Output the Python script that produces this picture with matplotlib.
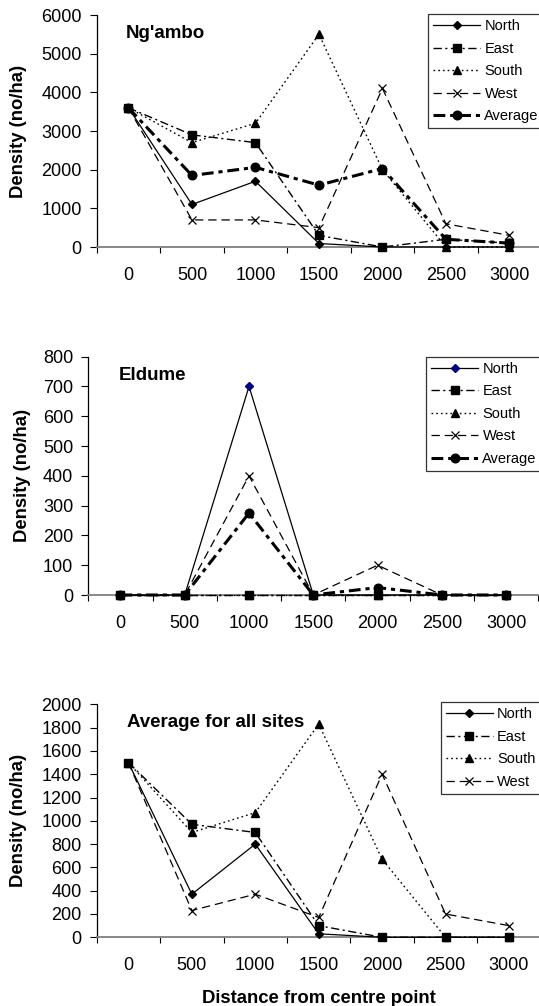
import matplotlib
matplotlib.use('Agg')
import matplotlib.pyplot as plt

plt.rcParams['font.family'] = ['Liberation Sans', 'DejaVu Sans']
plt.rcParams['lines.scale_dashes'] = False

W, H = 539, 1006

distance = ['0', '500', '1000', '1500', '2000', '2500', '3000']
series_names = ['North', 'East', 'South', 'West', 'Average']

ngambo_north = [3600, 1100, 1700, 90, 0, 0, 0]
ngambo_east = [3600, 2900, 2700, 300, 0, 200, 100]
ngambo_south = [3600, 2700, 3200, 5500, 2000, 0, 0]
ngambo_west = [3600, 700, 700, 500, 4100, 600, 300]
ngambo_avg = [3600, 1850, 2060, 1600, 2030, 200, 100]

eldume_north = [0, 0, 700, 0, 0, 0, 0]
eldume_east = [0, 0, 0, 0, 0, 0, 0]
eldume_south = [0, 0, 0, 0, 0, 0, 0]
eldume_west = [0, 0, 400, 0, 100, 0, 0]
eldume_avg = [0, 0, 275, 0, 25, 0, 0]

all_north = [1500, 370, 800, 30, 0, 0, 0]
all_east = [1500, 970, 900, 100, 0, 0, 0]
all_south = [1500, 900, 1070, 1830, 670, 0, 0]
all_west = [1500, 230, 370, 170, 1400, 200, 100]

styles = {
    'North': dict(color='black', ls='-', lw=0.9, marker='D', ms=4.5),
    'East': dict(color='black', ls=(0, (6, 2.5, 1.5, 2.5)), lw=1.0, marker='s', ms=5.5),
    'South': dict(color='black', ls=(0, (1.2, 2.2)), lw=1.0, marker='^', ms=5.8),
    'West': dict(color='black', ls=(0, (6, 3.5)), lw=0.9, marker='x', ms=6, mew=0.9),
    'Average': dict(color='black', ls=(0, (8.5, 3.5, 3, 3.5)), lw=2.2, marker='o', ms=6.2),
}

fig = plt.figure(figsize=(W / 100, H / 100), dpi=100)


def px_rect(left, top, width, bottom):
    return [left / W, 1 - bottom / H, width / W, (bottom - top) / H]


def panel(rect, title, title_pos, data, ymax, ystep, ylab_x, legend_pos, north_marker=None):
    ax = fig.add_axes(rect)
    x = list(range(len(distance)))
    for name, vals in data:
        st = dict(styles[name])
        if name == 'North' and north_marker:
            st['mfc'] = north_marker
            st['mec'] = north_marker
        ax.plot(x, vals, label=name, clip_on=False, zorder=3, **st)
    ax.set_xlim(-0.5, 6.5)
    ax.set_ylim(0, ymax)
    ax.set_yticks(list(range(0, ymax + 1, ystep)))
    ax.set_xticks(x)
    ax.set_xticklabels(distance)
    ax.set_xticks([i - 0.5 for i in range(8)], minor=True)
    ax.tick_params(axis='x', which='major', length=0, pad=14.5, labelsize=13)
    ax.tick_params(axis='x', which='minor', length=4, width=0.8, direction='out')
    ax.tick_params(axis='y', which='major', length=4.8, width=0.8, pad=6, labelsize=13)
    ax.spines['top'].set_visible(False)
    ax.spines['right'].set_visible(False)
    ax.spines['bottom'].set_color('#7f7f7f')
    ax.spines['bottom'].set_linewidth(1.3)
    ax.spines['left'].set_linewidth(0.9)
    ax.set_facecolor('none')
    fig.text(title_pos[0] / W, 1 - title_pos[1] / H, title, fontsize=13.5,
             fontweight='bold', ha='left', va='baseline')
    cy = (rect[1] + rect[3] / 2)
    fig.text(ylab_x / W, cy, 'Density (no/ha)', rotation=90, fontsize=13.3,
             fontweight='bold', ha='center', va='center')
    leg = ax.legend(loc='upper left', bbox_to_anchor=(legend_pos[0] / W, 1 - legend_pos[1] / H),
                    bbox_transform=fig.transFigure, borderaxespad=0, fancybox=False,
                    edgecolor='#333333', framealpha=1, fontsize=10.5, handlelength=3.2,
                    handletextpad=0.3, labelspacing=0.58, borderpad=0.35)
    leg.get_frame().set_linewidth(0.9)
    return ax


panel(px_rect(96.7, 15, 444.5, 247), "Ng'ambo", (126, 38.3),
      list(zip(series_names, [ngambo_north, ngambo_east, ngambo_south, ngambo_west, ngambo_avg])),
      6000, 1000, 18.5, (428.3, 14.3))

panel(px_rect(88.3, 356.7, 450, 595), 'Eldume', (118.3, 380),
      list(zip(series_names, [eldume_north, eldume_east, eldume_south, eldume_west, eldume_avg])),
      800, 100, 22.3, (426.3, 356.7), north_marker='#000080')

panel(px_rect(96.7, 704.3, 444, 937.3), 'Average for all sites', (127.2, 727),
      list(zip(series_names[:4], [all_north, all_east, all_south, all_west])),
      2000, 200, 18.5, (441, 702.3))

fig.text((203.3 + 435) / 2 / W, 1 - 1003.3 / H, 'Distance from centre point', fontsize=13.3,
         fontweight='bold', ha='center', va='baseline')

fig.savefig('out.png', dpi=100)
